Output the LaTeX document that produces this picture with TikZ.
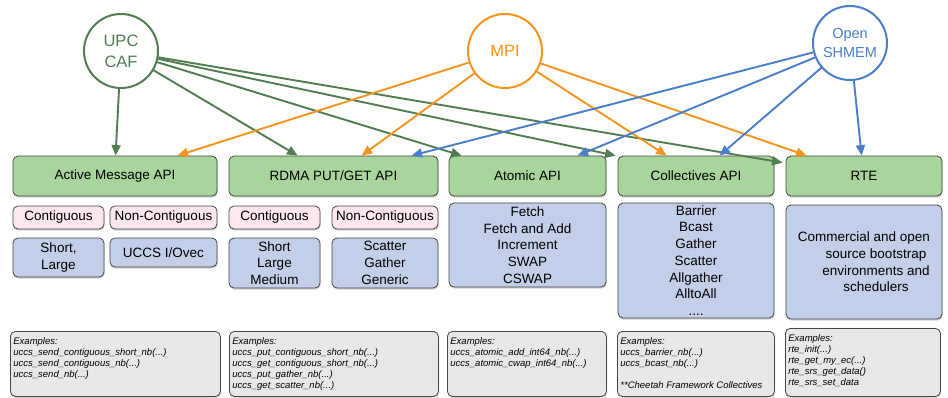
\documentclass[tikz,border=0pt]{standalone}
\usepackage{fontspec}
\setmainfont{Liberation Sans}
\usetikzlibrary{arrows.meta,shadows}
\definecolor{gfill}{RGB}{168,213,155}
\definecolor{gline}{RGB}{82,125,82}
\definecolor{oline}{RGB}{247,148,30}
\definecolor{bline}{RGB}{74,126,200}
\definecolor{pfill}{RGB}{252,231,238}
\definecolor{bfill}{RGB}{195,207,232}
\definecolor{xfill}{RGB}{232,232,232}
\definecolor{bord}{RGB}{70,70,70}
\begin{document}
\begin{tikzpicture}[x=1pt,y=-1pt,
  sz/.style 2 args={minimum width=#1pt, minimum height=#2pt},
  box/.style={draw=bord, line width=0.8pt, rounded corners=5pt, inner sep=0pt,
    align=center, font=\fontsize{13.5}{16.7}\selectfont,
    drop shadow={shadow xshift=0.6pt, shadow yshift=-1.6pt, opacity=0.35}},
  api/.style={box, fill=gfill},
  kind/.style={box, fill=pfill},
  ops/.style={box, fill=bfill},
  ex/.style={box, fill=xfill, anchor=north west, inner xsep=3pt, inner ysep=6pt,
    align=left, font=\fontsize{9.5}{11}\selectfont\itshape},
  lang/.style={circle, draw=#1, text=#1, line width=2pt, minimum size=74pt,
    align=center, inner sep=0pt},
  link/.style={draw=#1, line width=1.9pt, -{Triangle[length=10.5pt,width=9pt]}, #1}
]
\useasboundingbox[fill=white] (0,0) rectangle (948,397);

% source circles
\node[lang=gline, font=\fontsize{16.5}{21}\selectfont] (upc) at (121,51) {UPC\\CAF};
\node[lang=oline, font=\fontsize{16.5}{21}\selectfont] (mpi) at (505,51) {MPI};
\node[lang=bline, font=\fontsize{14.5}{19}\selectfont] (shm) at (850,43) {Open\\SHMEM};

% API boxes
\node[api, sz={204}{40}] (am)  at (115,176)   {Active Message API};
\node[api, sz={209}{40}] (rd)  at (333.5,176) {RDMA PUT/GET API};
\node[api, sz={157}{40}] (at)  at (527.5,176) {Atomic API};
\node[api, sz={156}{40}] (co)  at (696,176)   {Collectives API};
\node[api, sz={156}{40}] (rte) at (864,176)   {RTE};

% contiguity boxes
\node[kind, sz={91}{23}]  (amc) at (58.5,217.5)  {Contiguous};
\node[kind, sz={107}{23}] (amn) at (163.5,217.5) {Non-Contiguous};
\node[kind, sz={91}{23}]  (rdc) at (274.5,217.5) {Contiguous};
\node[kind, sz={106}{23}] (rdn) at (385,217.5)   {Non-Contiguous};

% operation boxes
\node[ops, sz={91}{39}]   (amco) at (58.5,257.5)  {Short,\\Large};
\node[ops, sz={107}{29}]  (amno) at (163.5,252.5) {UCCS I/Ovec};
\node[ops, sz={91}{50}]   (rdco) at (274.5,263)   {Short\\Large\\Medium};
\node[ops, sz={106}{50}]  (rdno) at (385,263)     {Scatter\\Gather\\Generic};
\node[ops, sz={157}{84}]  (ato)  at (527.5,245)   {Fetch\\Fetch and Add\\Increment\\SWAP\\CSWAP};
\node[ops, sz={156}{115}] (coo)  at (696,260.5)   {Barrier\\Bcast\\Gather\\Scatter\\Allgather\\AlltoAll\\....};
\node[ops, sz={156}{114}] (rteo) at (864,262)     {Commercial and open\\\hspace*{24pt}source bootstrap\\\hspace*{24pt}environments and\\\hspace*{24pt}schedulers};

% example boxes
\node[ex] (amx) at (10,331) {\parbox[t][53pt][t]{204pt}{Examples:\\uccs\_send\_contiguous\_short\_nb(...)\\uccs\_send\_contiguous\_nb(...)\\uccs\_send\_nb(...)}};
\node[ex] (rdx) at (229,331) {\parbox[t][53pt][t]{203pt}{Examples:\\uccs\_put\_contiguous\_short\_nb(...)\\uccs\_get\_contiguous\_short\_nb(...)\\uccs\_put\_gather\_nb(...)\\uccs\_get\_scatter\_nb(...)}};
\node[ex] (atx) at (447,331) {\parbox[t][53pt][t]{153pt}{Examples:\\uccs\_atomic\_add\_int64\_nb(...)\\uccs\_atomic\_cwap\_int64\_nb(...)}};
\node[ex] (cox) at (617,331) {\parbox[t][53pt][t]{151pt}{Examples:\\uccs\_barrier\_nb(...)\\uccs\_bcast\_nb(...)\\\mbox{}\\{}**Cheetah Framework Collectives}};
\node[ex] (rtex) at (785,328) {\parbox[t][56pt][t]{149pt}{Examples:\\rte\_init(...)\\rte\_get\_my\_ec(...)\\rte\_srs\_get\_data()\\rte\_srs\_set\_data}};

% UPC/CAF links
\draw[link=gline] (upc) -- ([xshift=103pt]am.north west);
\draw[link=gline] (upc) -- ([xshift=69pt]rd.north west);
\draw[link=gline] (upc) -- ([xshift=13pt]at.north west);
\draw[link=gline] (upc) -- ([xshift=-2pt]co.north west);
\draw[link=gline] (upc) -- ([xshift=-3pt,yshift=-7pt]rte.north west);
% MPI links
\draw[link=oline] (mpi) -- ([xshift=165pt]am.north west);
\draw[link=oline] (mpi) -- ([xshift=133pt]rd.north west);
\draw[link=oline] (mpi) -- ([xshift=49pt]co.north west);
\draw[link=oline] (mpi) -- ([xshift=21pt]rte.north west);
% OpenSHMEM links
\draw[link=bline] (shm) -- ([xshift=183pt]rd.north west);
\draw[link=bline] (shm) -- ([xshift=129pt]at.north west);
\draw[link=bline] (shm) -- ([xshift=102pt]co.north west);
\draw[link=bline] (shm) -- ([xshift=76pt]rte.north west);
\end{tikzpicture}
\end{document}
